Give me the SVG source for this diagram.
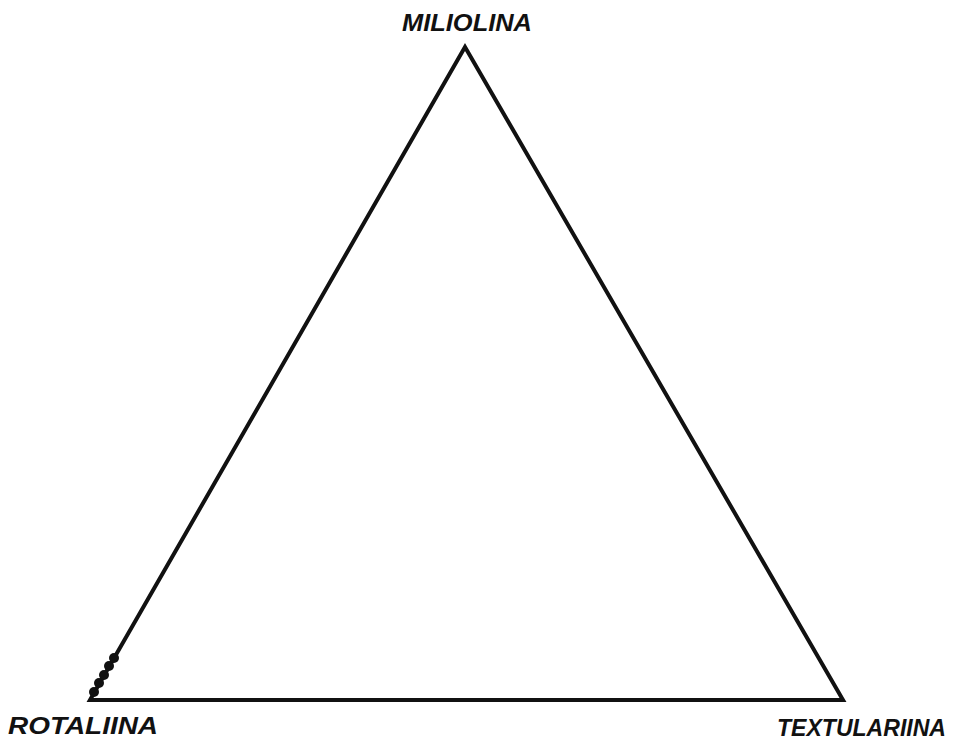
<svg xmlns="http://www.w3.org/2000/svg" width="956" height="748" viewBox="0 0 956 748">
<style>
.lbl{font-family:"Liberation Sans",Arial,sans-serif;font-style:italic;font-weight:bold;font-size:24px;fill:#111;}
.tri{fill:none;stroke:#111;stroke-width:4;stroke-linejoin:miter;}
.pt{fill:#111;}
</style>
<rect width="956" height="748" fill="#fff"/>
<g id="triangle">
<polygon class="tri" points="465,47 90,700 843,700"/>
</g>
<g id="points">
<circle class="pt" cx="94" cy="692" r="5"/>
<circle class="pt" cx="99" cy="683" r="5"/>
<circle class="pt" cx="104" cy="675" r="5"/>
<circle class="pt" cx="109" cy="666" r="5"/>
<circle class="pt" cx="114" cy="658" r="5"/>
</g>
<g id="miliolina"><text class="lbl" x="402" y="31" textLength="130" lengthAdjust="spacingAndGlyphs">MILIOLINA</text></g>
<g id="rotaliina"><text class="lbl" x="8" y="734" textLength="150" lengthAdjust="spacingAndGlyphs">ROTALIINA</text></g>
<g id="textulariina"><text class="lbl" x="777" y="736" textLength="169" lengthAdjust="spacingAndGlyphs">TEXTULARIINA</text></g>
</svg>
